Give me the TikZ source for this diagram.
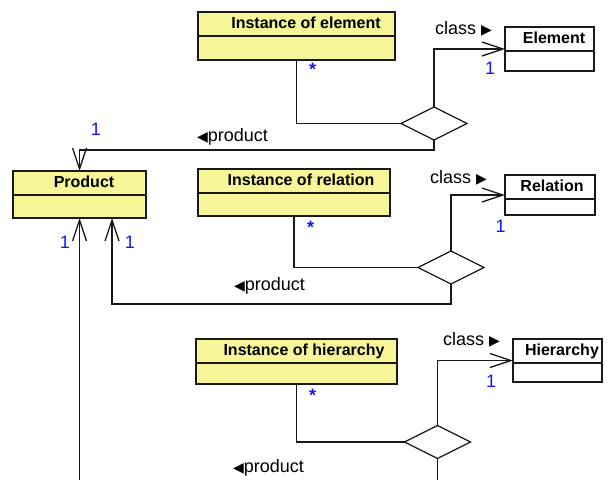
\documentclass[tikz,border=0pt]{standalone}
\usepackage{fontspec}
\setmainfont{Liberation Sans}
\newfontfamily\symfont{DejaVu Sans}
\usetikzlibrary{arrows.meta,shapes.geometric}

\definecolor{umlyellow}{RGB}{246,246,152}
\definecolor{umlline}{RGB}{25,25,25}
\definecolor{multblue}{RGB}{20,20,255}

% small direction triangles used in association names
\newcommand{\lefttri}{{\symfont\fontsize{14}{14}\selectfont ◀}}
\newcommand{\righttri}{{\symfont\fontsize{14}{14}\selectfont ▶}}

\begin{document}
\begin{tikzpicture}[x=1pt,y=-1pt,
  classbox/.style={draw=umlline, line width=1.3pt, inner sep=0pt, outer sep=0pt,
    anchor=north west},
  instbox/.style={classbox, fill=umlyellow},
  plainbox/.style={classbox, fill=white},
  title/.style={font=\fontsize{16}{16}\selectfont\bfseries, anchor=base, inner sep=0pt},
  assoc/.style={diamond, draw=umlline, line width=1.3pt, fill=white, inner sep=0pt,
    outer sep=0pt, minimum width=66pt, minimum height=33pt},
  conn/.style={draw=umlline, line width=1.3pt},
  nav/.style={conn, -{Straight Barb[length=21pt,width=14pt,line width=1.3pt]}},
  mult/.style={font=\fontsize{18}{18}\selectfont, text=multblue, anchor=base, inner sep=0pt},
  star/.style={font=\fontsize{18}{18}\selectfont\bfseries, text=multblue, anchor=base, inner sep=0pt},
  rolename/.style={font=\fontsize{18}{18}\selectfont, anchor=base west, inner sep=0pt}
]
\useasboundingbox (0,0) rectangle (610,479);

% ---- classes ----
\node[instbox, minimum width=197pt, minimum height=48pt] (ie) at (198,12) {};
\node[plainbox, minimum width=89pt, minimum height=44pt] (element) at (505,27) {};
\node[instbox, minimum width=133pt, minimum height=47pt] (product) at (13,171) {};
\node[instbox, minimum width=192pt, minimum height=47pt] (ir) at (198,169) {};
\node[plainbox, minimum width=90pt, minimum height=40pt] (relation) at (505,175) {};
\node[instbox, minimum width=201pt, minimum height=45pt] (ih) at (196,339) {};
\node[plainbox, minimum width=89pt, minimum height=43pt] (hierarchy) at (513,339) {};

% compartment dividers
\foreach \c in {ie,element,product,ir,relation,ih,hierarchy}
  \draw[conn] ([yshift=-24pt]\c.north west) -- ([yshift=-24pt]\c.north east);

% class names
\node[title] (ie-name) at (306,28.5) {Instance of element};
\node[title] (element-name) at (554,43.5) {Element};
\node[title] (product-name) at (84,187.5) {Product};
\node[title] (ir-name) at (301,185.5) {Instance of relation};
\node[title] (relation-name) at (552,191.5) {Relation};
\node[title] (ih-name) at (304,355.5) {Instance of hierarchy};
\node[title] (hierarchy-name) at (562,355.5) {Hierarchy};

% ---- ternary associations ----
\node[assoc] (d1) at (434,123.5) {};
\node[assoc] (d2) at (451,267.5) {};
\node[assoc] (d3) at (437.5,442) {};

\coordinate (d3-out) at (437.5,490);
\coordinate (product-in) at (79.5,490);

\draw[conn] (ie.south) |- (d1.west);
\draw[nav] (d1.north) |- (element.west);
\draw[nav] (d1.south) -- ++(0,10) -| (product.north);

\draw[conn] (ir.south) |- (d2.west);
\draw[nav] (d2.north) |- (relation.west);
\draw[nav] (d2.south) -- ++(0,20) -| ([xshift=32.5pt]product.south);

\draw[conn] (ih.south) |- (d3.west);
\draw[nav] (d3.north) |- (hierarchy.west);
\draw[conn] (d3.south) -- (d3-out);
\draw[nav] (product-in) -- (product.south);

% ---- multiplicities ----
\node[star] (m-ie) at (312.5,75) {*};
\node[mult] (m-el) at (490,74) {1};
\node[mult] (m-pt) at (96,135) {1};
\node[mult] (m-pl) at (65,248) {1};
\node[mult] (m-pr) at (130,248) {1};
\node[star] (m-ir) at (310.7,233.5) {*};
\node[mult] (m-rel) at (500.5,232) {1};
\node[star] (m-ih) at (312.7,401) {*};
\node[mult] (m-hi) at (491,387) {1};

% ---- association names ----
\node[rolename] (cls-1) at (435,34) {class \righttri};
\node[rolename] (prd-1) at (197,141) {\lefttri product};
\node[rolename] (cls-2) at (430,183) {class \righttri};
\node[rolename] (prd-2) at (234,290) {\lefttri product};
\node[rolename] (cls-3) at (443,345) {class \righttri};
\node[rolename] (prd-3) at (233,472) {\lefttri product};
\end{tikzpicture}
\end{document}
